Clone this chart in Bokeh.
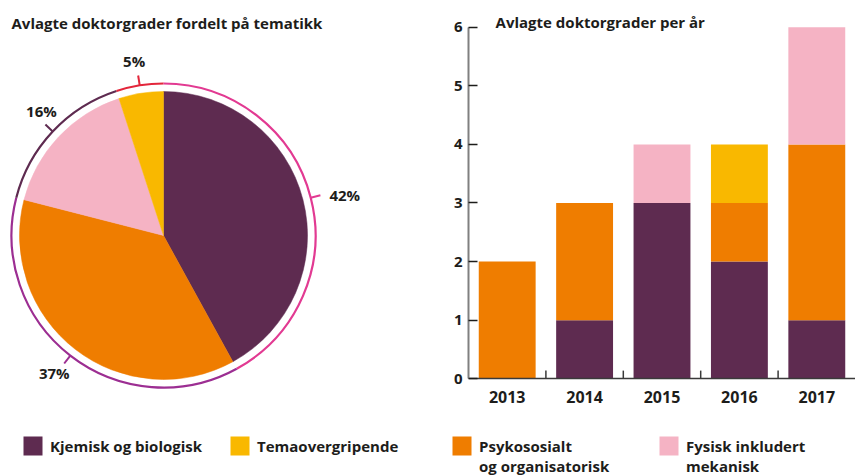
import math
from bokeh.plotting import figure
from bokeh.layouts import column, row
from bokeh.models import ColumnDataSource, FactorRange, Range1d, Label, CategoricalAxis
from bokeh.core.properties import value
from bokeh.embed import file_html
from bokeh.resources import INLINE

FONT = "Open Sans"
TXT = "#1d1d1b"

# ---------------- data ----------------
categories = ["Kjemisk og biologisk", "Psykososialt og organisatorisk",
              "Temaovergripende", "Fysisk inkludert mekanisk"]
cat_colors = ["#5e2b50", "#ef7d00", "#f9b800", "#f5b3c4"]

pie_order = ["Kjemisk og biologisk", "Psykososialt og organisatorisk",
             "Fysisk inkludert mekanisk", "Temaovergripende"]
pie_share = [42, 37, 16, 5]
ring_colors = ["#e23a92", "#9c2e92", "#5e2b50", "#e3263b"]

years = ["2013", "2014", "2015", "2016", "2017"]
kjemisk = [0, 1, 3, 2, 1]
psykososialt = [2, 2, 0, 1, 3]
temaovergripende = [0, 0, 0, 1, 0]
fysisk = [0, 0, 1, 0, 2]
y_ticks = [0, 1, 2, 3, 4, 5, 6]

legend_order = ["Kjemisk og biologisk", "Temaovergripende",
                "Psykososialt og organisatorisk", "Fysisk inkludert mekanisk"]
legend_text = ["Kjemisk og biologisk", "Temaovergripende",
               "Psykososialt\nog organisatorisk", "Fysisk inkludert\nmekanisk"]

title_left = "Avlagte doktorgrader fordelt på tematikk"
title_right = "Avlagte doktorgrader per år"

# ---------------- layout constants ----------------
H = 428          # height of the chart row

# ---------------- pie ----------------
W1 = 430
p1 = figure(width=W1, height=H, x_range=Range1d(0, W1), y_range=Range1d(0, H),
            x_axis_type=None, y_axis_type=None, toolbar_location=None,
            output_backend="svg", min_border=0, outline_line_color=None)

cx, cy, R, RR = 163, 193, 144, 152
total = float(sum(pie_share))
starts, ends, mids = [], [], []
cum = 0.0
for v in pie_share:
    a0 = math.pi / 2 - 2 * math.pi * cum / total
    cum += v
    a1 = math.pi / 2 - 2 * math.pi * cum / total
    starts.append(a0)
    ends.append(a1)
    mids.append((a0 + a1) / 2)

pie_colors = [cat_colors[categories.index(c)] for c in pie_order]
src = ColumnDataSource(dict(start=starts, end=ends, color=pie_colors, ring=ring_colors))
p1.wedge(x=cx, y=cy, radius=R, start_angle="start", end_angle="end", direction="clock",
         fill_color="color", line_color="color", line_width=0.5, source=src)
p1.arc(x=cx, y=cy, radius=RR, start_angle="start", end_angle="end", direction="clock",
       line_color="ring", line_width=2.2, source=src)

tx0 = [cx + RR * math.cos(m) for m in mids]
ty0 = [cy + RR * math.sin(m) for m in mids]
tx1 = [cx + (RR + 10) * math.cos(m) for m in mids]
ty1 = [cy + (RR + 10) * math.sin(m) for m in mids]
p1.segment(x0=tx0, y0=ty0, x1=tx1, y1=ty1, line_color=ring_colors, line_width=2)

for i, v in enumerate(pie_share):
    s, c = math.sin(mids[i]), math.cos(mids[i])
    ax, ay = tx1[i], ty1[i]
    if s > 0.6:
        x, y, al, bl = ax - 4, ay + 4, "center", "bottom"
    elif s < -0.6:
        x, y, al, bl = ax - 10, ay + 1, "center", "top"
    elif c > 0:
        x, y, al, bl = ax + 9, ay, "left", "middle"
    else:
        x, y, al, bl = ax - 9, ay, "right", "middle"
    p1.text(x=[x], y=[y], text=[f"{v}%"], text_font=value(FONT), text_font_style="bold",
            text_font_size="15px", text_color=TXT, text_align=al, text_baseline=bl)

p1.add_layout(Label(x=11, y=406, text=title_left, text_font=FONT, text_font_style="bold",
                    text_font_size="15px", text_color=TXT, text_baseline="middle"))

# ---------------- bars ----------------
p2 = figure(width=425, height=H, x_range=FactorRange(factors=years),
            y_range=Range1d(-0.848, 6.455), toolbar_location=None, output_backend="svg",
            x_axis_location=None,
            min_border_left=38, min_border_right=0, min_border_top=0, min_border_bottom=0,
            outline_line_color=None)
bsrc = ColumnDataSource(dict(year=years, kj=kjemisk, ps=psykososialt,
                             te=temaovergripende, fy=fysisk))
stack_cols = ["kj", "ps", "te", "fy"]
stack_cats = ["Kjemisk og biologisk", "Psykososialt og organisatorisk",
              "Temaovergripende", "Fysisk inkludert mekanisk"]
p2.vbar_stack(stack_cols, x="year", width=0.735, source=bsrc,
              fill_color=[cat_colors[categories.index(c)] for c in stack_cats],
              line_color=None)

p2.xgrid.grid_line_color = None
p2.ygrid.grid_line_color = None

ya = p2.yaxis[0]
ya.ticker = y_ticks
ya.bounds = (0, 6)
ya.axis_line_color = "#808080"
ya.axis_line_width = 2
ya.major_tick_in = 9
ya.major_tick_out = 0
ya.major_tick_line_color = TXT
ya.major_tick_line_width = 1.5
ya.minor_tick_line_color = None
ya.major_label_standoff = 6
ya.major_label_text_font = FONT
ya.major_label_text_font_style = "bold"
ya.major_label_text_font_size = "15px"
ya.major_label_text_color = TXT

xa = CategoricalAxis(fixed_location=0)
xa.axis_line_color = "#3a3a3a"
xa.axis_line_width = 1.5
xa.major_tick_line_color = None
xa.major_label_standoff = 6
xa.major_label_text_font = FONT
xa.major_label_text_font_style = "bold"
xa.major_label_text_font_size = "16px"
xa.major_label_text_color = TXT
p2.add_layout(xa, "below")

bx = [(y, -0.5) for y in years[1:]]
p2.segment(x0=bx, y0=[0] * len(bx), x1=bx, y1=[0.14] * len(bx),
           line_color="#3a3a3a", line_width=1.5)

p2.add_layout(Label(x=0.35, y=6.08, text=title_right, text_font=FONT, text_font_style="bold",
                    text_font_size="15px", text_color=TXT, text_baseline="middle"))

# ---------------- legend ----------------
LH = 48
lf = figure(width=855, height=LH, x_range=Range1d(0, 855), y_range=Range1d(0, LH),
            x_axis_type=None, y_axis_type=None, toolbar_location=None,
            output_backend="svg", min_border=0, outline_line_color=None)
sq_left = [23, 230, 452, 659]
sq = 19
ly = 30.5
lf.rect(x=[x + sq / 2 for x in sq_left], y=[ly] * 4, width=sq, height=sq,
        fill_color=[cat_colors[categories.index(c)] for c in legend_order], line_color=None)
for i, t in enumerate(legend_text):
    lines = t.count("\n") + 1
    lf.text(x=[sq_left[i] + 26.5], y=[ly - 9.5 * (lines - 1)], text=[t],
            text_font=value(FONT), text_font_style="bold", text_font_size="15px",
            text_color=TXT, text_baseline="middle", text_line_height=1.0)

layout = column(row(p1, p2), lf)
open("out.html", "w").write(file_html(layout, INLINE))
